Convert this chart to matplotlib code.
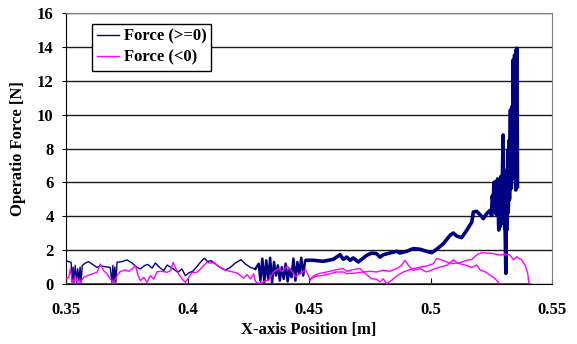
import matplotlib
matplotlib.use("Agg")
import matplotlib.pyplot as plt

# navy trace, thin part (0.35 - 0.428), including the drop-outs to zero
pos_low_x = [0.3500, 0.3511, 0.3521, 0.3525, 0.3529, 0.3533, 0.3538, 0.3543, 0.3548, 0.3553,
             0.3558, 0.3562, 0.3567, 0.3580, 0.3593, 0.3607, 0.3628, 0.3641, 0.3662, 0.3682,
             0.3689, 0.3693, 0.3697, 0.3701, 0.3705, 0.3710, 0.3730, 0.3751, 0.3772, 0.3792,
             0.3806, 0.3822, 0.3836, 0.3854, 0.3868, 0.3885, 0.3902, 0.3916, 0.3932, 0.3946,
             0.3960, 0.3977, 0.3991, 0.4005, 0.4023, 0.4039, 0.4053, 0.4069, 0.4083, 0.4097,
             0.4115, 0.4135, 0.4156, 0.4176, 0.4197, 0.4220, 0.4238, 0.4259, 0.4279]
pos_low_y = [1.38, 1.32, 1.28, 0.10, 1.00, 0.10, 1.10, 0.10, 0.90, 0.20,
             1.00, 0.10, 1.10, 1.24, 1.32, 1.18, 0.98, 1.08, 1.02, 0.98,
             0.10, 1.10, 0.10, 1.00, 0.10, 1.28, 1.32, 1.42, 1.24, 0.98,
             0.89, 1.08, 1.16, 0.94, 1.24, 0.98, 0.79, 1.12, 0.98, 0.85,
             0.69, 0.89, 0.49, 0.65, 0.77, 1.04, 1.28, 1.52, 1.32, 1.38,
             1.18, 0.98, 0.83, 0.98, 1.24, 1.44, 1.18, 0.98, 0.89]

# navy, oscillating section before the steady part
pos_osc_x = [0.4279, 0.4293, 0.4300, 0.4308, 0.4316, 0.4324, 0.4332, 0.4340, 0.4348, 0.4356,
             0.4364, 0.4372, 0.4380, 0.4388, 0.4396, 0.4404, 0.4412, 0.4420, 0.4428, 0.4436,
             0.4444, 0.4452, 0.4460, 0.4468, 0.4476, 0.4484, 0.4491]
pos_osc_y = [0.89, 1.20, 0.20, 1.50, 0.10, 1.40, 0.30, 1.55, 0.10, 1.30, 0.50, 1.10, 0.20,
             1.00, 0.30, 1.20, 0.15, 0.90, 0.40, 1.50, 0.20, 1.30, 0.60, 1.55, 0.50, 1.40, 1.40]

# navy, steady rise
pos_mid_x = [0.4491, 0.4518, 0.4559, 0.4600, 0.4628, 0.4641, 0.4655, 0.4669, 0.4682, 0.4703,
             0.4717, 0.4737, 0.4758, 0.4778, 0.4792, 0.4806, 0.4833, 0.4861, 0.4874, 0.4902,
             0.4929, 0.4957, 0.4984, 0.5005, 0.5025, 0.5053, 0.5080, 0.5094, 0.5108, 0.5128,
             0.5149, 0.5170, 0.5176, 0.5190, 0.5204, 0.5217, 0.5231, 0.5245, 0.5251]
pos_mid_y = [1.40, 1.40, 1.34, 1.46, 1.73, 1.46, 1.59, 1.40, 1.54, 1.30,
             1.46, 1.69, 1.83, 1.79, 1.59, 1.73, 1.83, 1.93, 1.83, 1.93,
             2.09, 2.05, 1.93, 1.85, 2.05, 2.38, 2.87, 3.01, 2.83, 2.74,
             3.17, 3.66, 4.25, 4.29, 4.09, 3.86, 4.15, 4.35, 4.07]

# navy, final peak cluster
pos_peak_x = [0.5251, 0.5254, 0.5258, 0.5261, 0.5265, 0.5268, 0.5270, 0.5272, 0.5274, 0.5276,
              0.5278, 0.5280, 0.5281, 0.5283, 0.5285, 0.5287, 0.5289, 0.5290, 0.5292, 0.5294,
              0.5296, 0.5299, 0.5300, 0.5302, 0.5304, 0.5305, 0.5307, 0.5310, 0.5313, 0.5315,
              0.5318, 0.5319, 0.5321, 0.5324, 0.5325, 0.5326, 0.5329, 0.5330, 0.5332, 0.5335,
              0.5336, 0.5337, 0.5340, 0.5341, 0.5343, 0.5346, 0.5347, 0.5348, 0.5351, 0.5352,
              0.5354, 0.5355, 0.5357, 0.5358]
pos_peak_y = [4.07, 5.20, 4.76, 6.00, 4.20, 6.04, 5.75, 4.10, 4.76, 6.20,
              5.55, 3.60, 3.19, 5.80, 5.16, 3.40, 6.34, 4.00, 3.58, 6.10,
              6.54, 8.80, 3.60, 3.98, 6.73, 3.30, 3.19, 0.63, 6.34, 3.19,
              7.91, 4.20, 4.76, 8.50, 5.00, 6.14, 10.28, 5.60, 7.13, 10.47,
              6.20, 6.73, 13.23, 8.00, 9.09, 13.52, 7.50, 6.73, 5.55, 13.82,
              7.00, 13.92, 9.09, 5.75]

# magenta, first pass (0.35 - 0.529)
neg_a_x = [0.3500, 0.3511, 0.3518, 0.3525, 0.3532, 0.3538, 0.3545, 0.3559, 0.3573, 0.3586,
           0.3607, 0.3628, 0.3641, 0.3655, 0.3669, 0.3682, 0.3696, 0.3710, 0.3723, 0.3744,
           0.3758, 0.3772, 0.3786, 0.3795, 0.3806, 0.3820, 0.3833, 0.3847, 0.3861, 0.3875,
           0.3895, 0.3916, 0.3930, 0.3941, 0.3950, 0.3964, 0.3977, 0.3991, 0.4005, 0.4019,
           0.4039, 0.4053, 0.4066, 0.4080, 0.4094, 0.4108, 0.4122, 0.4149, 0.4176, 0.4204,
           0.4218, 0.4231, 0.4245, 0.4259, 0.4272, 0.4280, 0.4294, 0.4314, 0.4335, 0.4355,
           0.4376, 0.4390, 0.4410, 0.4431, 0.4445, 0.4465, 0.4486, 0.4504, 0.4532, 0.4559,
           0.4587, 0.4614, 0.4641, 0.4655, 0.4696, 0.4723, 0.4751, 0.4778, 0.4806, 0.4833,
           0.4861, 0.4881, 0.4895, 0.4909, 0.4929, 0.4957, 0.4984, 0.5012, 0.5039, 0.5067,
           0.5094, 0.5114, 0.5142, 0.5169, 0.5190, 0.5204, 0.5224, 0.5245, 0.5265, 0.5286]
neg_a_y = [0.30, 0.39, 0.89, 0.20, 0.10, 0.49, 0.14, 0.10, 0.39, 0.49,
           0.59, 0.69, 1.18, 0.79, 0.59, 0.30, 0.10, 0.49, 0.73, 0.83,
           0.75, 0.89, 1.08, 0.59, 0.20, 0.39, 0.10, 0.49, 0.30, 0.73,
           0.75, 0.69, 0.79, 1.28, 0.98, 0.59, 0.30, 0.10, 0.39, 0.69,
           0.69, 0.89, 1.08, 1.28, 1.24, 1.30, 1.10, 0.85, 0.75, 0.65,
           0.50, 0.35, 0.55, 0.30, 0.60, 0.14, 0.04, 0.14, 0.24, 0.73,
           0.93, 0.73, 1.06, 0.73, 0.43, 0.63, 0.83, 0.31, 0.47, 0.51,
           0.61, 0.71, 0.71, 0.61, 0.65, 0.71, 0.75, 0.71, 0.81, 0.75,
           0.91, 1.10, 1.40, 1.10, 0.81, 0.91, 0.71, 0.87, 1.00, 1.10,
           1.42, 1.22, 1.12, 0.98, 1.12, 0.83, 0.73, 0.53, 0.33, 0.00]

# magenta, second pass (0.45 - 0.5405)
neg_b_x = [0.4504, 0.4518, 0.4539, 0.4573, 0.4621, 0.4640, 0.4655, 0.4682, 0.4710, 0.4723,
           0.4744, 0.4758, 0.4778, 0.4792, 0.4806, 0.4819, 0.4840, 0.4861, 0.4888, 0.4909,
           0.4929, 0.4957, 0.4984, 0.5012, 0.5025, 0.5039, 0.5067, 0.5094, 0.5122, 0.5149,
           0.5169, 0.5190, 0.5210, 0.5251, 0.5286, 0.5307, 0.5327, 0.5341, 0.5355, 0.5375,
           0.5389, 0.5400, 0.5405]
neg_b_y = [0.22, 0.47, 0.61, 0.71, 0.87, 0.91, 0.75, 0.85, 0.91, 0.71,
           0.47, 0.31, 0.28, 0.12, 0.31, 0.02, 0.22, 0.47, 0.71, 0.81,
           0.91, 1.00, 1.06, 1.20, 1.50, 1.46, 1.30, 1.20, 1.26, 1.40,
           1.45, 1.71, 1.85, 1.81, 1.71, 1.77, 1.71, 1.42, 1.61, 1.42,
           1.12, 0.63, 0.00]

# magenta zero readings along the whole run
neg_zero_x = [0.3500, 0.5405]
neg_zero_y = [0.0, 0.0]

plt.rcParams['font.family'] = ['Liberation Serif', 'DejaVu Serif']
plt.rcParams['font.weight'] = 'bold'

fig = plt.figure(figsize=(5.77, 3.44), dpi=100)
ax = fig.add_axes([0.1144, 0.1744, 0.8423, 0.7878])

navy = '#000080'
mag = '#ff00ff'

ax.plot(neg_zero_x, neg_zero_y, color='#c000c0', lw=2.2, zorder=3)
ax.plot(pos_low_x, pos_low_y, color=navy, lw=1.0, label='Force (>=0)', zorder=3)
ax.plot(pos_osc_x, pos_osc_y, color=navy, lw=1.8, zorder=3)
ax.plot(pos_mid_x, pos_mid_y, color=navy, lw=2.6, zorder=3)
ax.plot(pos_peak_x, pos_peak_y, color=navy, lw=2.6, zorder=3)
ax.plot(neg_a_x, neg_a_y, color=mag, lw=1.0, label='Force (<0)', zorder=4)
ax.plot(neg_b_x, neg_b_y, color=mag, lw=1.0, zorder=4)

ax.set_xlim(0.35, 0.55)
ax.set_ylim(0, 16)
ax.set_xticks([0.35, 0.40, 0.45, 0.50, 0.55])
ax.set_xticklabels(['0.35', '0.4', '0.45', '0.5', '0.55'])
ax.set_yticks(range(0, 17, 2))
ax.tick_params(axis='x', direction='in', length=4, pad=13, labelsize=12)
ax.tick_params(axis='y', direction='out', length=3, pad=6, labelsize=12)

ax.yaxis.grid(True, color='#1a1a1a', lw=1.0)
ax.spines['top'].set_color('#808080')
ax.spines['right'].set_color('#808080')
ax.spines['left'].set_color('black')
ax.spines['bottom'].set_color('black')

ax.set_xlabel('X-axis Position [m]', fontsize=12, fontweight='bold', labelpad=3)
ax.set_ylabel('Operatio Force [N]', fontsize=12, fontweight='bold', labelpad=8)

leg = ax.legend(loc='upper left', bbox_to_anchor=(0.0535, 0.96), borderaxespad=0,
                fancybox=False, framealpha=1, edgecolor='black', fontsize=12,
                handlelength=1.3, handletextpad=0.3, borderpad=0.3, labelspacing=0.3)
leg.get_frame().set_linewidth(1.0)

fig.savefig('out.png', dpi=100)
